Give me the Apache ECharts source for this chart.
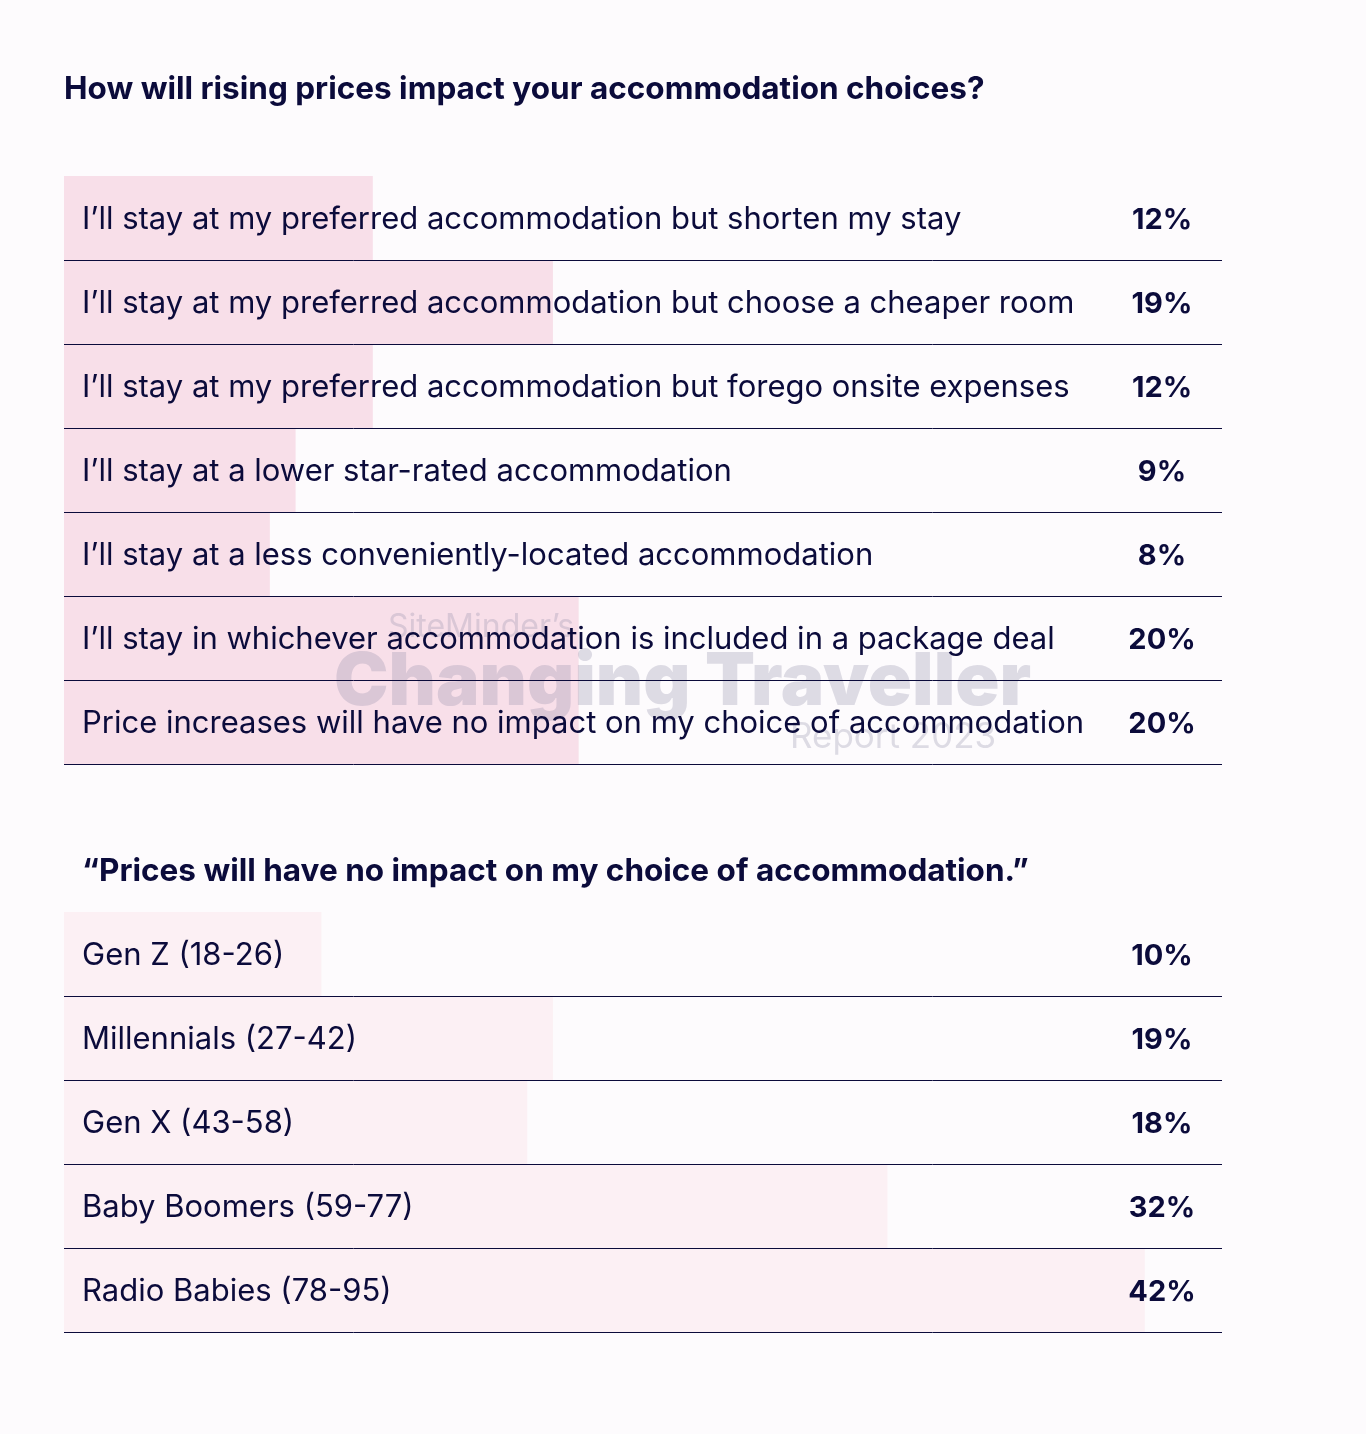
<!DOCTYPE html>
<html><head><meta charset="utf-8">
<script src="https://cdn.jsdelivr.net/npm/echarts@6/dist/echarts.min.js"></script>
<style>html,body{margin:0;padding:0;background:#fdfbfd}#c{width:1366px;height:1434px}</style>
</head><body><div id="c"></div>
<script>
const title1 = "How will rising prices impact your accommodation choices?";
const title2 = "\u201cPrices will have no impact on my choice of accommodation.\u201d";
const cats1 = [
  "I\u2019ll stay at my preferred accommodation but shorten my stay",
  "I\u2019ll stay at my preferred accommodation but choose a cheaper room",
  "I\u2019ll stay at my preferred accommodation but forego onsite expenses",
  "I\u2019ll stay at a lower star-rated accommodation",
  "I\u2019ll stay at a less conveniently-located accommodation",
  "I\u2019ll stay in whichever accommodation is included in a package deal",
  "Price increases will have no impact on my choice of accommodation"
];
const vals1 = [12, 19, 12, 9, 8, 20, 20];
const cats2 = ["Gen Z (18-26)", "Millennials (27-42)", "Gen X (43-58)", "Baby Boomers (59-77)", "Radio Babies (78-95)"];
const vals2 = [10, 19, 18, 32, 42];
const axisMax = 45;

const navy = '#0b0b3b';
const font = 'Inter, "Noto Sans", sans-serif';
const wmColor = 'rgba(140,135,165,0.28)';

function yAx(idx, cats) {
  return {
    type: 'category', gridIndex: idx, data: cats, inverse: true, z: 6,
    axisLine: {show: false}, axisTick: {show: false}, axisLabel: {show: false},
    splitLine: {show: true, showMinLine: false, lineStyle: {color: navy, width: 1}}
  };
}
function xAx(idx) {
  return {type: 'value', gridIndex: idx, min: 0, max: axisMax, show: false, splitLine: {show: false}};
}
function barSeries(idx, vals, color) {
  return {
    type: 'bar', xAxisIndex: idx, yAxisIndex: idx, data: vals, barWidth: '100%',
    itemStyle: {color: color}, z: 2, silent: true, label: {show: false}
  };
}
function nameSeries(idx, cats) {
  return {
    type: 'scatter', xAxisIndex: idx, yAxisIndex: idx, symbolSize: 0, z: 10, silent: true,
    itemStyle: {opacity: 1},
    data: cats.map(c => [0, c]),
    label: {show: true, position: 'right', distance: 18, offset: [0, 2], formatter: p => p.value[1],
      color: navy, fontFamily: font, fontSize: 31, fontWeight: 400}
  };
}
function valSeries(idx, cats, vals) {
  return {
    type: 'scatter', xAxisIndex: idx, yAxisIndex: idx, symbolSize: 0, z: 10, silent: true,
    itemStyle: {opacity: 1},
    data: cats.map((c, i) => [axisMax, c, vals[i]]),
    label: {show: true, position: 'inside', offset: [-60, 2], align: 'center', formatter: p => p.value[2] + '%',
      color: navy, fontFamily: font, fontSize: 29, fontWeight: 700}
  };
}

const chart = echarts.init(document.getElementById('c'), null, {renderer: 'canvas'});
chart.setOption({
  backgroundColor: '#fdfbfd',
  animation: false,
  title: [
    {text: title1, left: 59, top: 69, textStyle: {color: navy, fontFamily: font, fontSize: 31.5, fontWeight: 700}},
    {text: title2, left: 77, top: 851, textStyle: {color: navy, fontFamily: font, fontSize: 31.5, fontWeight: 700}}
  ],
  grid: [
    {left: 64, width: 1158, top: 176, height: 588},
    {left: 64, width: 1158, top: 912, height: 420}
  ],
  xAxis: [xAx(0), xAx(1)],
  yAxis: [yAx(0, cats1), yAx(1, cats2)],
  graphic: [
    {type: 'text', z: 5, silent: true, left: 388, top: 611,
      style: {text: "SiteMinder\u2019s", fontFamily: font, fontSize: 32, fill: wmColor}},
    {type: 'text', z: 5, silent: true, left: 334, top: 647,
      style: {text: "Changing Traveller", fontFamily: font, fontSize: 73, fontWeight: 900, fill: wmColor}},
    {type: 'text', z: 5, silent: true, left: 790, top: 720,
      style: {text: "Report 2023", fontFamily: font, fontSize: 35, fill: wmColor}}
  ],
  series: [
    barSeries(0, vals1, '#f8dfe9'),
    barSeries(1, vals2, '#fcf0f4'),
    nameSeries(0, cats1), nameSeries(1, cats2),
    valSeries(0, cats1, vals1), valSeries(1, cats2, vals2)
  ]
});
</script></body></html>
